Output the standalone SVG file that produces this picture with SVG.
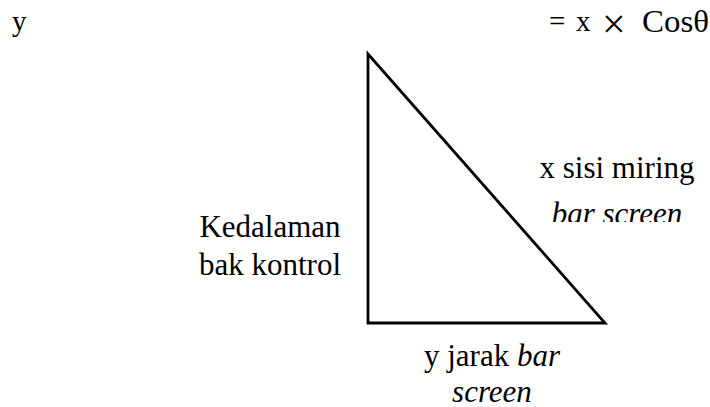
<svg xmlns="http://www.w3.org/2000/svg" width="710" height="407" viewBox="0 0 710 407">
<defs>
<style>
.t{font-family:'Liberation Serif','Times New Roman',serif;font-size:31px;fill:#000;}
.m{font-family:'Liberation Serif','Times New Roman',serif;font-size:29px;fill:#000;}
.i{font-style:italic;}
.c{text-anchor:middle;}
</style>
<clipPath id="clipBar"><rect x="500" y="180" width="210" height="42"/></clipPath>
</defs>
<rect width="710" height="407" fill="#fff"/>
<g id="formula">
<text class="m" x="12" y="31">y</text>
<text class="m" x="549" y="31">=</text>
<text class="m" x="576" y="31">x</text>
<text class="m" x="602" y="38" style="font-size:42px">×</text>
<text class="m" x="642" y="32" style="font-size:31px" textLength="67" lengthAdjust="spacingAndGlyphs">Cosθ</text>
</g>
<g id="connectors">
<path id="triangle" d="M368 54 L368 323 L605 323 Z" fill="none" stroke="#000" stroke-width="2.8" stroke-linejoin="miter"/>
</g>
<g id="label-depth">
<text class="t c" x="270" y="237">Kedalaman</text>
<text class="t c" x="270" y="275">bak kontrol</text>
</g>
<g id="label-hyp">
<text class="t c" x="617" y="178">x sisi miring</text>
<text class="t c i" x="617" y="224" clip-path="url(#clipBar)">bar screen</text>
</g>
<g id="label-base">
<text class="t c" x="492" y="366">y jarak <tspan class="i">bar</tspan></text>
<text class="t c i" x="492" y="402">screen</text>
</g>
</svg>
